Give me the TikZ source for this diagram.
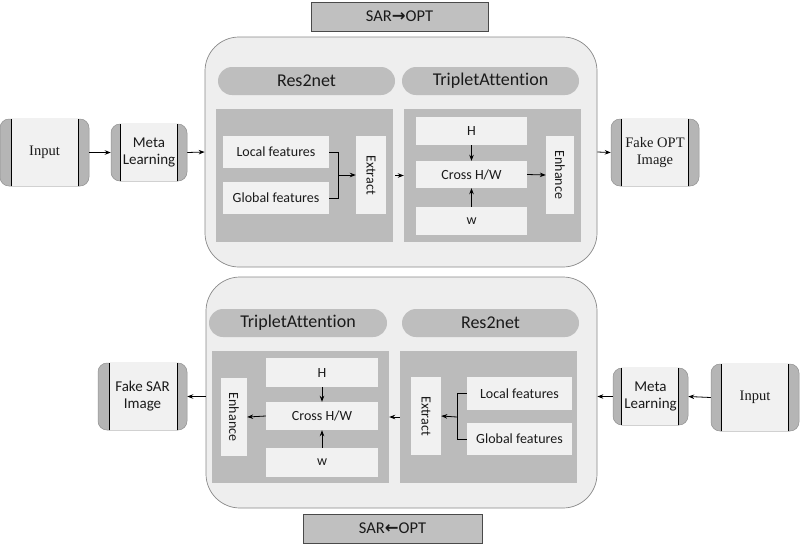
\documentclass[tikz,border=0pt]{standalone}
\usepackage{fontspec}
\setmainfont[Ligatures=NoCommon]{Carlito}
\newfontfamily\timesf[Ligatures=NoCommon]{Liberation Serif}
\newfontfamily\symx{DejaVu Sans}
\usetikzlibrary{arrows.meta,positioning,calc}
\definecolor{bigfill}{HTML}{EEEEEE}
\definecolor{bigdraw}{HTML}{8A8A8A}
\definecolor{pillfill}{HTML}{BEBEBE}
\definecolor{panelfill}{HTML}{BBBBBB}
\definecolor{innerfill}{HTML}{F1F1F1}
\definecolor{stripfill}{HTML}{B5B5B5}
\definecolor{labfill}{HTML}{C0C0C0}
\definecolor{labdraw}{HTML}{4A4A4A}
\definecolor{txt}{HTML}{1A1A1A}
\tikzset{
  bigbox/.style={draw=bigdraw, fill=bigfill, rounded corners=34pt, line width=0.7pt},
  pill/.style={fill=pillfill, rounded corners=14pt, text=txt, font=\fontsize{18}{20}\selectfont},
  panel/.style={fill=panelfill},
  inner/.style={fill=innerfill, text=txt, font=\fontsize{14}{16}\selectfont},
  lab/.style={fill=labfill, draw=labdraw, line width=0.7pt, text=txt, font=\fontsize{16.5}{18}\selectfont},
  arr/.style={-{Stealth[length=6pt,width=4.5pt]}, line width=0.8pt, black},
  conn/.style={line width=0.8pt, black},
  serifnode/.style={font=\fontsize{14.5}{16.5}\selectfont},
  sansnode/.style={font=\fontsize{15}{17}\selectfont},
}
\newcommand{\stripbox}[9]{%
  % #1 name, #2 cx, #3 cy, #4 w, #5 h, #6 left strip, #7 right strip, #8 style, #9 text
  \node[fill=stripfill, draw=stripfill!80!black, line width=0.5pt, rounded corners=9pt,
        minimum width=#4, minimum height=#5, inner sep=0pt] (#1) at (#2,#3) {};
  \fill[innerfill] ($(#1.south west)+(#6,0)$) rectangle ($(#1.north east)+(-#7,0)$);
  \draw[black, line width=0.8pt] ($(#1.south west)+(#6,0)$) -- ($(#1.north west)+(#6,0)$);
  \draw[black, line width=0.8pt] ($(#1.south east)+(-#7,0)$) -- ($(#1.north east)+(-#7,0)$);
  \node[align=center, text=txt, #8] at (#1.center) {#9};
}
\begin{document}
\begin{tikzpicture}[x=1pt,y=-1pt]
\useasboundingbox (0,0) rectangle (800,550);
\fill[white] (0,0) rectangle (800,550);

% labels
\node[lab, minimum width=177pt, minimum height=29pt, inner sep=0pt] (lt) at (399.5,16.5) {SAR{\symx\bfseries →}OPT};
\node[lab, minimum width=179pt, minimum height=29pt, inner sep=0pt] (lb) at (392.5,528.5) {SAR{\symx\bfseries ←}OPT};

% big boxes
\node[bigbox, minimum width=392pt, minimum height=230pt, inner sep=0pt] (bt) at (401,152) {};
\node[bigbox, minimum width=391pt, minimum height=231pt, inner sep=0pt] (bb) at (401.5,392.5) {};

% ---------- top ----------
\node[pill, minimum width=177pt, minimum height=28pt, inner sep=0pt] (rt) at (306.5,81) {Res2net};
\node[pill, minimum width=177pt, minimum height=28pt, inner sep=0pt] (tt) at (490.5,81) {TripletAttention};
\node[panel, minimum width=177pt, minimum height=133pt, inner sep=0pt] (prt) at (304.5,175.5) {};
\node[panel, minimum width=177pt, minimum height=133pt, inner sep=0pt] (ptt) at (492.5,175.5) {};

\node[inner, minimum width=106pt, minimum height=32pt, inner sep=0pt] (loct) at (276,152) {Local features};
\node[inner, minimum width=106pt, minimum height=32pt, inner sep=0pt] (glot) at (276,198) {Global features};
\node[inner, minimum width=30pt, minimum height=78pt, inner sep=0pt] (ext) at (371,175) {\rotatebox{-90}{Extract}};
\coordinate (jt) at (338,175);
\draw[conn] (loct.east) -| (jt);
\draw[conn] (glot.east) -| (jt);
\draw[arr] (jt) -- (ext.west);

\node[inner, minimum width=111pt, minimum height=28pt, inner sep=0pt] (ht) at (471.5,131) {H};
\node[inner, minimum width=111pt, minimum height=27pt, inner sep=0pt] (ct) at (471.5,174.5) {Cross H/W};
\node[inner, minimum width=111pt, minimum height=28pt, inner sep=0pt] (wt) at (471.5,221) {w};
\node[inner, minimum width=28pt, minimum height=78pt, inner sep=0pt] (ent) at (560,175) {\rotatebox{-90}{Enhance}};
\draw[arr] (ht.south) -- (ct.north);
\draw[arr] (wt.north) -- (ct.south);
\draw[arr] (ct.east) -- (ent.west);
\draw[arr] ([xshift=2pt]prt.east) -- (ptt.west);

% ---------- bottom ----------
\node[pill, minimum width=178pt, minimum height=28pt, inner sep=0pt] (tb) at (298,323) {TripletAttention};
\node[pill, minimum width=177pt, minimum height=28pt, inner sep=0pt] (rb) at (490.5,323) {Res2net};
\node[panel, minimum width=177pt, minimum height=132pt, inner sep=0pt] (ptb) at (300.5,417) {};
\node[panel, minimum width=177pt, minimum height=132pt, inner sep=0pt] (prb) at (488.5,417) {};

\node[inner, minimum width=105pt, minimum height=33pt, inner sep=0pt] (locb) at (519.5,393.5) {Local features};
\node[inner, minimum width=105pt, minimum height=32pt, inner sep=0pt] (glob) at (519.5,439) {Global features};
\node[inner, minimum width=30pt, minimum height=78pt, inner sep=0pt] (exb) at (426,416) {\rotatebox{-90}{Extract}};
\coordinate (jb) at (457,417);
\draw[conn] (locb.west) -| (jb);
\draw[conn] (glob.west) -| (jb);
\draw[arr] (jb) -- (exb.east);

\node[inner, minimum width=112pt, minimum height=29pt, inner sep=0pt] (hb) at (322,372.5) {H};
\node[inner, minimum width=112pt, minimum height=28pt, inner sep=0pt] (cb) at (322,416) {Cross H/W};
\node[inner, minimum width=112pt, minimum height=29pt, inner sep=0pt] (wb) at (322,462.5) {w};
\node[inner, minimum width=26pt, minimum height=78pt, inner sep=0pt] (enb) at (234,417) {\rotatebox{-90}{Enhance}};
\draw[arr] (hb.south) -- (cb.north);
\draw[arr] (wb.north) -- (cb.south);
\draw[arr] (cb.west) -- (enb.east);
\draw[arr] (prb.west) -- (ptb.east);

% ---------- side boxes ----------
\stripbox{int}{44.5}{152.5}{89pt}{67pt}{12pt}{11pt}{serifnode}{\timesf Input}
\stripbox{mlt}{149}{152.5}{76pt}{57pt}{10pt}{10pt}{sansnode}{Meta\\Learning}
\stripbox{fopt}{655}{152.5}{88pt}{67pt}{11pt}{11pt}{serifnode}{\timesf Fake OPT\\\timesf Image}
\stripbox{fsar}{142.5}{396.5}{89pt}{67pt}{12pt}{10pt}{sansnode}{Fake SAR\\Image}
\stripbox{mlb}{650.5}{396.5}{75pt}{57pt}{9pt}{10pt}{sansnode}{Meta\\Learning}
\stripbox{inb}{755}{397.5}{88pt}{67pt}{11pt}{11pt}{serifnode}{\timesf Input}

\draw[arr] (int.east) -- (mlt.west);
\draw[arr] (mlt.east) -- (bt.west);
\draw[arr] (bt.east) -- (fopt.west);
\draw[arr] (inb.west) -- (mlb.east);
\draw[arr] (mlb.west) -- (bb.east |- mlb.west);
\draw[arr] (bb.west |- fsar.east) -- (fsar.east);
\end{tikzpicture}
\end{document}
